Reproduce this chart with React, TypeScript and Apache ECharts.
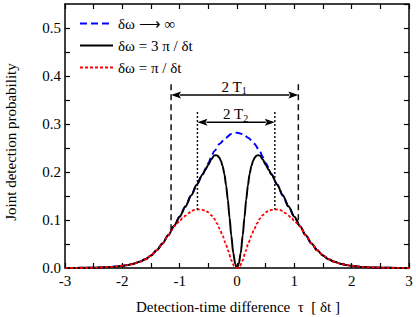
import React, { useEffect, useRef } from "react";
import * as echarts from "echarts";

// Positive-side delay values (curves are symmetric about tau = 0)
const tauBlue = [0, 0.1, 0.2, 0.3, 0.4, 0.45, 0.5, 0.6, 0.7, 0.8, 0.9, 1.0, 1.1, 1.2, 1.3, 1.4, 1.5, 1.6, 1.7, 1.8, 1.9, 2.0, 2.2, 2.4, 2.6, 2.8, 3.0];
const probBlue = [0.282, 0.279, 0.271, 0.259, 0.243, 0.231, 0.218, 0.196, 0.174, 0.151, 0.128, 0.107, 0.087, 0.068, 0.051, 0.037, 0.026, 0.018, 0.013, 0.009, 0.0065, 0.0045, 0.0022, 0.001, 0.0005, 0.0002, 0.0001];

const tauBlack = [0, 0.03, 0.065, 0.1, 0.13, 0.16, 0.19, 0.22, 0.25, 0.28, 0.31, 0.34, 0.37, 0.4, 0.45, 0.5, 0.55, 0.6, 0.7, 0.8, 0.9, 1.0, 1.1, 1.2, 1.3, 1.4, 1.5, 1.6, 1.7, 1.8, 1.9, 2.0, 2.2, 2.4, 2.6, 2.8, 3.0];
const probBlack = [0, 0.008, 0.031, 0.068, 0.105, 0.142, 0.172, 0.196, 0.212, 0.223, 0.23, 0.234, 0.235, 0.234, 0.226, 0.215, 0.205, 0.195, 0.174, 0.151, 0.128, 0.107, 0.087, 0.068, 0.051, 0.037, 0.026, 0.018, 0.013, 0.009, 0.0065, 0.0045, 0.0022, 0.001, 0.0005, 0.0002, 0.0001];

const tauRed = [0, 0.05, 0.1, 0.15, 0.2, 0.25, 0.3, 0.35, 0.4, 0.45, 0.5, 0.55, 0.6, 0.68, 0.75, 0.8, 0.85, 0.9, 0.95, 1.0, 1.05, 1.1, 1.2, 1.3, 1.4, 1.5, 1.6, 1.7, 1.8, 1.9, 2.0, 2.2, 2.4, 2.6, 2.8, 3.0];
const probRed = [0, 0.004, 0.016, 0.035, 0.052, 0.067, 0.081, 0.093, 0.103, 0.11, 0.116, 0.119, 0.121, 0.122, 0.121, 0.118, 0.114, 0.109, 0.104, 0.098, 0.093, 0.086, 0.068, 0.051, 0.037, 0.026, 0.018, 0.013, 0.009, 0.0065, 0.0045, 0.0022, 0.001, 0.0005, 0.0002, 0.0001];

const seriesNames = ["δω ⟶ ∞", "δω = 3 π / δt", "δω = π / δt"];

// Annotation markers (tau positions and heights in data units)
const t1Bounds = [-1.15, 1.07];
const t2Bounds = [-0.69, 0.66];
const t1ArrowLevel = 0.3605;
const t2ArrowLevel = 0.3035;
const t1TopLevel = 0.383;
const t2TopLevel = 0.325;
const t2BottomLevel = 0.122;

const FONT = "Liberation Serif, Times New Roman, serif";

function mirror(t: number[], v: number[]) {
  const pts: number[][] = [];
  for (let i = t.length - 1; i > 0; i--) pts.push([-t[i], v[i]]);
  for (let i = 0; i < t.length; i++) pts.push([t[i], v[i]]);
  return pts;
}

function interp(t: number[], v: number[], x: number) {
  const a = Math.abs(x);
  for (let i = 0; i < t.length - 1; i++) {
    if (a >= t[i] && a <= t[i + 1]) {
      const f = (a - t[i]) / (t[i + 1] - t[i]);
      return v[i] + f * (v[i + 1] - v[i]);
    }
  }
  return v[v.length - 1];
}

export default function App() {
  const ref = useRef<HTMLDivElement>(null);

  useEffect(() => {
    if (!ref.current) return;
    const chart = echarts.init(ref.current, undefined, { renderer: "svg" });

    const axisLine = { show: true, onZero: false, lineStyle: { color: "#000", width: 1.5 } };
    const axisTick = { show: true, inside: true, length: 5, lineStyle: { color: "#000", width: 1.2 } };

    chart.setOption({
      animation: false,
      textStyle: { fontFamily: FONT, color: "#000" },
      grid: { left: 65, right: 7, top: 4, bottom: 49 },
      legend: {
        orient: "vertical",
        left: 74,
        top: 11,
        itemWidth: 33,
        itemHeight: 14,
        itemGap: 7,
        data: seriesNames,
        itemStyle: { opacity: 0 },
        textStyle: { fontFamily: FONT, fontSize: 15, color: "#000", lineHeight: 15 },
      },
      xAxis: [
        {
          type: "value",
          min: -3,
          max: 3,
          interval: 0.5,
          position: "bottom",
          axisLine,
          axisTick,
          splitLine: { show: false },
          axisLabel: {
            color: "#000",
            fontFamily: FONT,
            fontSize: 15,
            margin: 5,
            formatter: (v: number) => (Math.abs(v - Math.round(v)) < 1e-6 ? String(Math.round(v)) : ""),
          },
        },
        {
          type: "value",
          min: -3,
          max: 3,
          interval: 0.5,
          position: "top",
          axisLine,
          axisTick,
          splitLine: { show: false },
          axisLabel: { show: false },
        },
      ],
      yAxis: [
        {
          type: "value",
          min: 0,
          max: 0.55,
          interval: 0.05,
          position: "left",
          axisLine,
          axisTick,
          splitLine: { show: false },
          axisLabel: {
            color: "#000",
            fontFamily: FONT,
            fontSize: 15,
            margin: 4,
            showMaxLabel: false,
            formatter: (v: number) => {
              const k = Math.round(v * 100);
              return k % 10 === 0 ? (k / 100).toFixed(1) : "";
            },
          },
        },
        {
          type: "value",
          min: 0,
          max: 0.55,
          interval: 0.05,
          position: "right",
          axisLine,
          axisTick,
          splitLine: { show: false },
          axisLabel: { show: false },
        },
      ],
      series: [
        {
          name: seriesNames[0],
          type: "line",
          data: mirror(tauBlue, probBlue),
          symbol: "none",
          smooth: 0.3,
          smoothMonotone: "x",
          lineStyle: { color: "#0000ff", width: 2, type: [7, 4] },
          itemStyle: { color: "#0000ff" },
          z: 2,
        },
        {
          name: seriesNames[1],
          type: "line",
          data: mirror(tauBlack, probBlack),
          symbol: "none",
          smooth: 0.3,
          smoothMonotone: "x",
          lineStyle: { color: "#000", width: 2, type: "solid" },
          itemStyle: { color: "#000" },
          z: 3,
        },
        {
          name: seriesNames[2],
          type: "line",
          data: mirror(tauRed, probRed),
          symbol: "none",
          smooth: 0.3,
          smoothMonotone: "x",
          lineStyle: { color: "#ff0000", width: 1.8, type: [3, 2] },
          itemStyle: { color: "#ff0000" },
          z: 4,
        },
      ],
    });

    const px = (x: number, y: number) =>
      chart.convertToPixel({ xAxisIndex: 0, yAxisIndex: 0 }, [x, y]) as number[];

    const elements: any[] = [];
    const vline = (x: number, yTop: number, yBot: number, dash: number[]) => {
      const a = px(x, yTop);
      const b = px(x, yBot);
      elements.push({
        type: "line",
        shape: { x1: a[0], y1: a[1], x2: b[0], y2: b[1] },
        style: { stroke: "#111", lineWidth: 1.5, lineDash: dash },
        z: 10,
      });
    };
    vline(t1Bounds[0], t1TopLevel, interp(tauBlue, probBlue, t1Bounds[0]), [6, 4]);
    vline(t1Bounds[1], t1TopLevel, interp(tauBlue, probBlue, t1Bounds[1]), [6, 4]);
    vline(t2Bounds[0], t2TopLevel, t2BottomLevel, [2, 2]);
    vline(t2Bounds[1], t2TopLevel, t2BottomLevel, [2, 2]);

    const arrow = (x0: number, x1: number, level: number, sub: string) => {
      const a = px(x0, level);
      const b = px(x1, level);
      const L = 10;
      const W = 3.5;
      elements.push({
        type: "line",
        shape: { x1: a[0] + L - 1, y1: a[1], x2: b[0] - L + 1, y2: b[1] },
        style: { stroke: "#000", lineWidth: 1.5 },
        z: 11,
      });
      elements.push({
        type: "polygon",
        shape: { points: [[a[0], a[1]], [a[0] + L, a[1] - W], [a[0] + L - 2, a[1]], [a[0] + L, a[1] + W]] },
        style: { fill: "#000" },
        z: 11,
      });
      elements.push({
        type: "polygon",
        shape: { points: [[b[0], b[1]], [b[0] - L, b[1] - W], [b[0] - L + 2, b[1]], [b[0] - L, b[1] + W]] },
        style: { fill: "#000" },
        z: 11,
      });
      const cx = (a[0] + b[0]) / 2;
      const cy = a[1] - 8;
      elements.push({
        type: "text",
        x: cx + 7,
        y: cy,
        style: { text: "2 T", fontFamily: FONT, fontSize: 15, fill: "#000", align: "right", verticalAlign: "middle" },
        z: 12,
      });
      elements.push({
        type: "text",
        x: cx + 7,
        y: cy + 4,
        style: { text: sub, fontFamily: FONT, fontSize: 10, fill: "#000", align: "left", verticalAlign: "middle" },
        z: 12,
      });
    };
    arrow(t1Bounds[0], t1Bounds[1], t1ArrowLevel, "1");
    arrow(t2Bounds[0], t2Bounds[1], t2ArrowLevel, "2");

    elements.push({
      type: "text",
      x: 238,
      y: 307,
      style: {
        text: "Detection-time difference  τ  [ δt ]",
        fontFamily: FONT,
        fontSize: 15,
        fill: "#000",
        align: "center",
        verticalAlign: "middle",
      },
    });
    elements.push({
      type: "text",
      x: 11,
      y: 142,
      rotation: Math.PI / 2,
      style: {
        text: "Joint detection probability",
        fontFamily: FONT,
        fontSize: 15,
        fill: "#000",
        align: "center",
        verticalAlign: "middle",
      },
    });

    chart.setOption({ graphic: elements });

    return () => chart.dispose();
  }, []);

  return (
    <div
      ref={ref}
      style={{ position: "absolute", left: 0, top: 0, width: 416, height: 317 }}
    />
  );
}
